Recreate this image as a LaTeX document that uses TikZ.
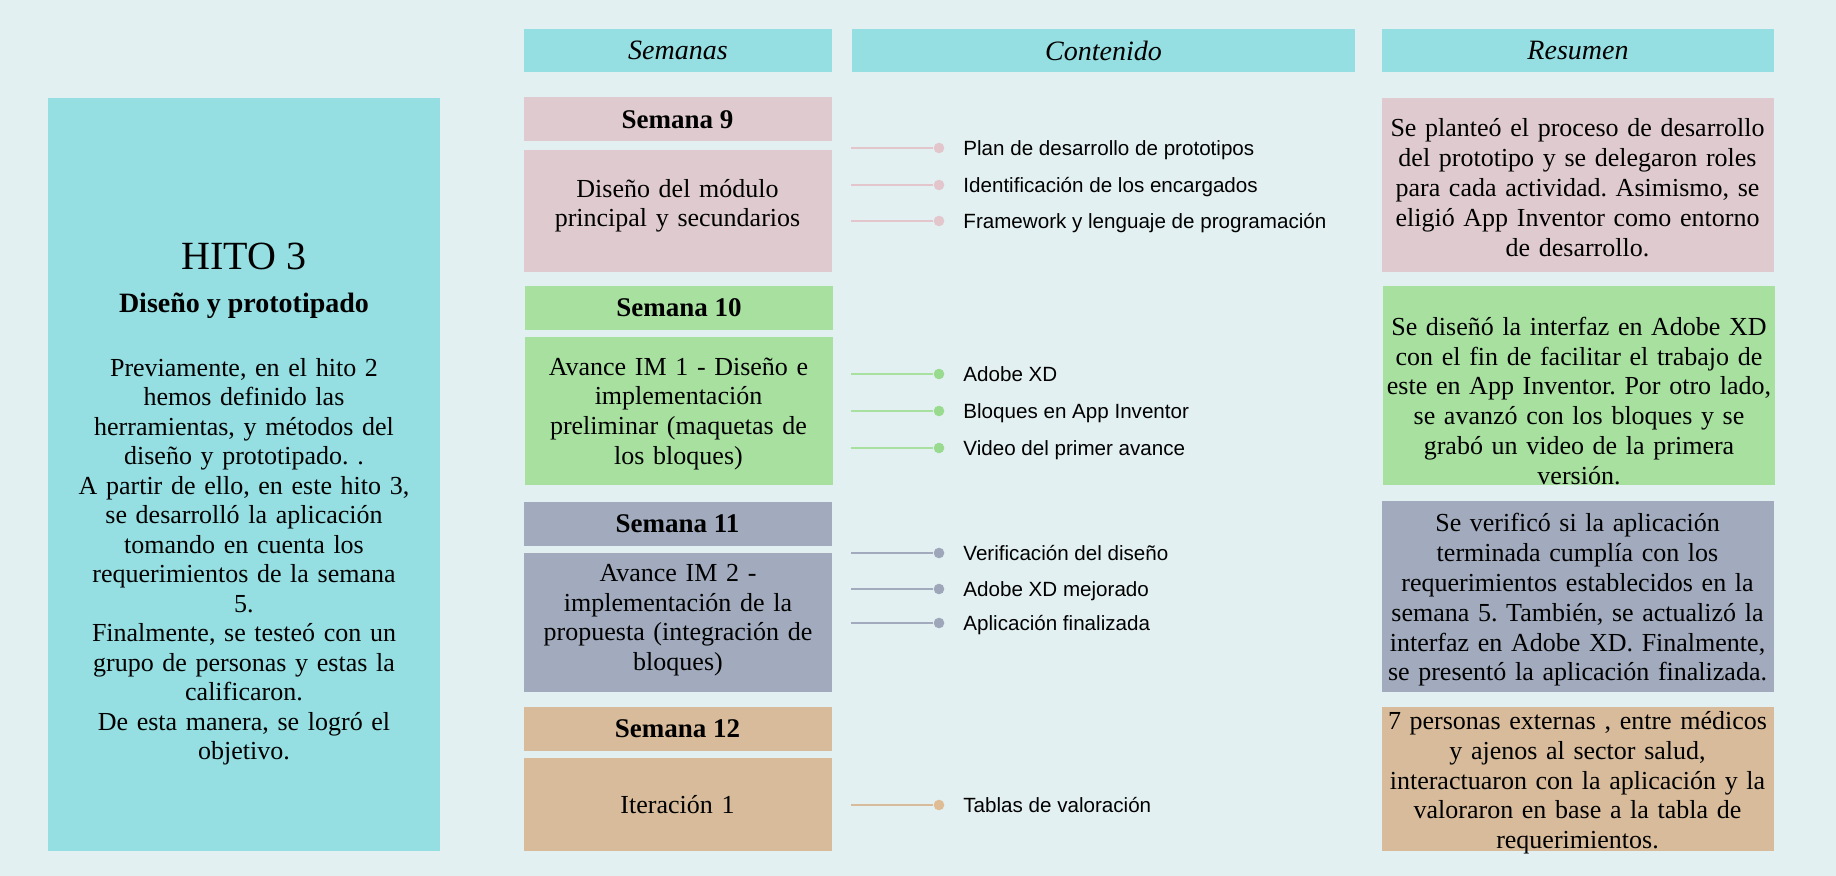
\documentclass[tikz,border=0pt]{standalone}
\usepackage{fontspec}
\setmainfont{Liberation Serif}
\setsansfont{Liberation Sans}
\definecolor{fondo}{HTML}{E3F0F1}
\definecolor{cian}{HTML}{95DEE1}
\definecolor{rosa}{HTML}{DFCBCF}
\definecolor{verde}{HTML}{A8E0A0}
\definecolor{gris}{HTML}{A1ABBD}
\definecolor{ocre}{HTML}{D7BB9A}
\definecolor{rosap}{HTML}{E2C6CC}
\definecolor{verdep}{HTML}{98DA8E}
\definecolor{grisp}{HTML}{9DA7B9}
\definecolor{ocrep}{HTML}{DFBC94}

\begin{document}
\frenchspacing
\begin{tikzpicture}[x=0.5pt,y=-0.5pt]
\tikzstyle{head}=[rectangle,fill=cian,inner sep=0pt,minimum height=21.5pt,font=\itshape\fontsize{14}{16}\selectfont]
\tikzstyle{wk}=[rectangle,inner sep=0pt,minimum width=154pt,minimum height=22pt,font=\bfseries\fontsize{13.5}{15}\selectfont]
\tikzstyle{wkbox}=[rectangle,inner sep=0pt,minimum width=154pt,text width=152pt,align=center,anchor=north,font=\fontsize{13}{14.8}\selectfont]
\tikzstyle{res}=[rectangle,inner sep=0pt,minimum width=196pt,text width=195pt,align=center,anchor=north,font=\fontsize{13}{14.9}\selectfont]
\tikzstyle{dot}=[circle,inner sep=0pt,minimum size=5.3pt]
\tikzstyle{item}=[anchor=base west,inner sep=0pt,font=\sffamily\fontsize{10.3}{12}\selectfont]
\tikzstyle{line}=[line width=1pt]

\fill[fondo] (0,0) rectangle (1836,876);

% hito
\node[rectangle,fill=cian,inner sep=0pt,minimum width=196pt,minimum height=376.5pt] (H) at (244,474.5) {};
\node[anchor=base,inner sep=0pt,font=\fontsize{20}{22}\selectfont] (Ht) at (244,270) {HITO 3};
\node[anchor=base,inner sep=0pt,font=\bfseries\fontsize{14}{16}\selectfont] (Hs) at (244,313) {Diseño y prototipado};
\node[anchor=north,inner sep=0pt,text width=190pt,align=center,font=\fontsize{13}{14.75}\selectfont] (Hb) at (244,358) {Previamente, en el hito 2\\ hemos  definido las\\ herramientas, y métodos del\\ diseño y prototipado. .\\ A partir de ello, en este hito 3,\\ se  desarrolló la aplicación\\ tomando en cuenta los\\ requerimientos de la semana\\ 5.\\ Finalmente, se testeó con un\\ grupo de personas y estas la\\ calificaron.\\ De esta manera,  se logró el\\ objetivo.};

% cabeceras
\node[head,minimum width=154pt] (Sem) at (678,50.5) {Semanas};
\node[head,minimum width=251.5pt] (Con) at (1103.5,50.5) {Contenido};
\node[head,minimum width=196pt] (Res) at (1578,50.5) {Resumen};

% semanas
\node[wk,fill=rosa] (S9) at (677.5,119.5) {Semana 9};
\node[wkbox,fill=rosa,text height=23.5pt,text depth=37.5pt] (D9) at (677.5,150) {Diseño del módulo\\ principal y secundarios};
\node[wk,fill=verde] (S10) at (679,308) {Semana 10};
\node[wkbox,fill=verde,text height=19pt,text depth=55pt] (D10) at (678.5,337) {Avance IM 1 - Diseño e\\ implementación\\ preliminar (maquetas de\\ los bloques)};
\node[wk,fill=gris] (S11) at (677.5,524) {Semana 11};
\node[wkbox,fill=gris,text height=14pt,text depth=55.5pt] (D11) at (678,553) {Avance IM 2 -\\ implementación de la\\ propuesta (integración de\\ bloques)};
\node[wk,fill=ocre] (S12) at (677.5,729) {Semana 12};
\node[wkbox,fill=ocre,text height=27.5pt,text depth=19pt] (D12) at (677.5,758) {Iteración 1};

% resumen
\node[res,fill=rosa,text height=19.25pt,text depth=67.75pt] (R9) at (1577.5,98) {Se  planteó el proceso de desarrollo\\ del prototipo y se delegaron roles\\ para cada actividad. Asimismo, se\\ eligió App Inventor como entorno\\ de desarrollo.};
\node[res,fill=verde,text height=24.5pt,text depth=75pt] (R10) at (1579,286) {Se diseñó la interfaz en Adobe XD\\ con el fin de facilitar el trabajo de\\ este en App Inventor. Por otro lado,\\ se avanzó con los bloques y se\\ grabó un video de la primera\\ versión.};
\node[res,fill=gris,text height=15.25pt,text depth=80.25pt] (R11) at (1577.5,501) {Se verificó si la aplicación\\ terminada cumplía con los\\ requerimientos establecidos en la\\ semana 5.  También, se actualizó la\\ interfaz en Adobe XD.  Finalmente,\\ se presentó la aplicación finalizada.};
\node[res,fill=ocre,text height=11pt,text depth=61pt] (R12) at (1577.5,707) {7 personas externas , entre médicos\\ y ajenos al sector salud,\\ interactuaron con la aplicación y  la\\ valoraron en base a la tabla de\\ requerimientos.};

% contenido
\coordinate (c91) at (851,148);
\node[dot,fill=rosap] (d91) at (939,148) {};
\node[item] (t91) at (963,155.4) {Plan de desarrollo de prototipos};
\draw[line,rosap] (c91) -- (d91);
\coordinate (c92) at (851,185);
\node[dot,fill=rosap] (d92) at (939,185) {};
\node[item] (t92) at (963,192.4) {Identificación de los encargados};
\draw[line,rosap] (c92) -- (d92);
\coordinate (c93) at (851,221);
\node[dot,fill=rosap] (d93) at (939,221) {};
\node[item] (t93) at (963,228.4) {Framework y lenguaje de programación};
\draw[line,rosap] (c93) -- (d93);

\coordinate (c101) at (851,374);
\node[dot,fill=verdep] (d101) at (939,374) {};
\node[item] (t101) at (963,381.4) {Adobe XD};
\draw[line,verde] (c101) -- (d101);
\coordinate (c102) at (851,411);
\node[dot,fill=verdep] (d102) at (939,411) {};
\node[item] (t102) at (963,418.4) {Bloques en App Inventor};
\draw[line,verde] (c102) -- (d102);
\coordinate (c103) at (851,448);
\node[dot,fill=verdep] (d103) at (939,448) {};
\node[item] (t103) at (963,455.4) {Video del primer avance};
\draw[line,verde] (c103) -- (d103);

\coordinate (c111) at (851,553);
\node[dot,fill=grisp] (d111) at (939,553) {};
\node[item] (t111) at (963,560.4) {Verificación del diseño};
\draw[line,gris] (c111) -- (d111);
\coordinate (c112) at (851,589);
\node[dot,fill=grisp] (d112) at (939,589) {};
\node[item] (t112) at (963,596.4) {Adobe XD mejorado};
\draw[line,gris] (c112) -- (d112);
\coordinate (c113) at (851,623);
\node[dot,fill=grisp] (d113) at (939,623) {};
\node[item] (t113) at (963,630.4) {Aplicación finalizada};
\draw[line,gris] (c113) -- (d113);

\coordinate (c121) at (851,805);
\node[dot,fill=ocrep] (d121) at (939,805) {};
\node[item] (t121) at (963,812.4) {Tablas de valoración};
\draw[line,ocre] (c121) -- (d121);
\end{tikzpicture}
\end{document}
